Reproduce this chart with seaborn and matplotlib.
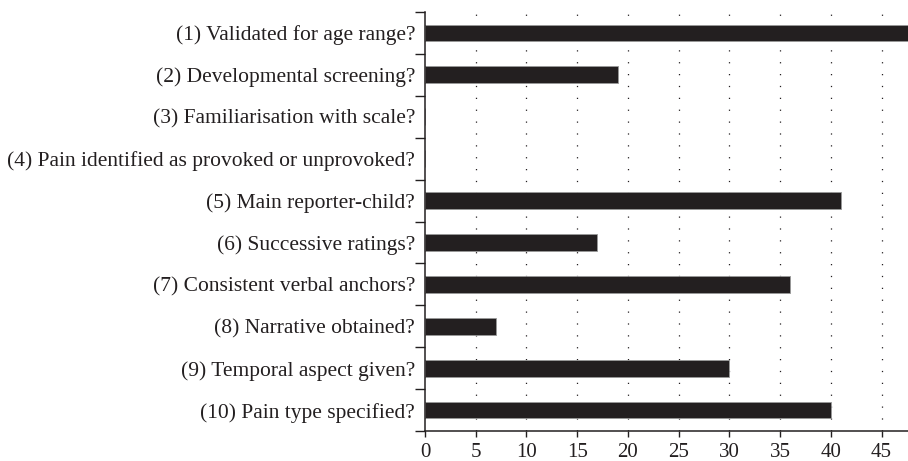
import matplotlib
matplotlib.use('Agg')
import matplotlib.pyplot as plt
import numpy as np
import pandas as pd
import seaborn as sns

# Data
questions = ['(1) Validated for age range?',
             '(2) Developmental screening?',
             '(3) Familiarisation with scale?',
             '(4) Pain identified as provoked or unprovoked?',
             '(5) Main reporter-child?',
             '(6) Successive ratings?',
             '(7) Consistent verbal anchors?',
             '(8) Narrative obtained?',
             '(9) Temporal aspect given?',
             '(10) Pain type specified?']
counts = [48, 19, 0, 0, 41, 17, 36, 7, 30, 40]
xticks = [0, 5, 10, 15, 20, 25, 30, 35, 40, 45]

df = pd.DataFrame({'question': questions, 'count': counts})

sns.set_theme(style='white')
plt.rcParams['font.family'] = ['Liberation Serif', 'DejaVu Serif']

fig = plt.figure(figsize=(9.08, 4.61), dpi=100)
ax = fig.add_axes([0.468, 0.065, 0.532, 0.909])

# dotted vertical grid behind the bars
for x in xticks[1:]:
    ax.axvline(x, color='#231f20', linestyle=(0, (1, 8.5)), linewidth=0.9, zorder=0)

sns.barplot(data=df, x='count', y='question', orient='h', color='#231f20',
            width=0.4, edgecolor='#999999', linewidth=0.6, saturation=1, ax=ax, zorder=2)

ax.set_xlim(0, 47.6)
ax.set_ylim(len(questions) - 0.5, -0.5)
ax.set_xticks(xticks)
ax.set_xlabel('')
ax.set_ylabel('')

# ticks sit between categories on the y axis
ax.set_yticks(np.arange(-0.5, len(questions), 1), minor=True)
ax.tick_params(axis='y', which='major', length=0, labelsize=15.5, pad=7, colors='#231f20')
ax.tick_params(axis='y', which='minor', length=7, width=1, left=True, color='#231f20')
ax.tick_params(axis='x', which='major', length=4, width=1, bottom=True, labelsize=15,
               colors='#231f20', pad=4.5)

for side in ['top', 'right']:
    ax.spines[side].set_visible(False)
for side in ['left', 'bottom']:
    ax.spines[side].set_color('#231f20')
    ax.spines[side].set_linewidth(1.1)

fig.savefig('out.png', dpi=100)
